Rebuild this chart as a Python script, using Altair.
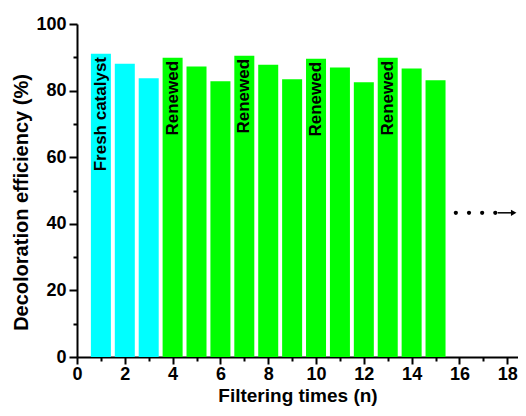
import altair as alt
import pandas as pd

# Data
runs = list(range(1, 16))
efficiency = [91.1, 88.1, 83.7, 89.9, 87.2, 82.8, 90.5, 87.8, 83.4, 89.6, 86.9, 82.5, 89.9, 86.6, 83.1]
phase = ["Fresh"] * 3 + ["Renewed"] * 12

label_runs = [1, 4, 7, 10, 13]
label_texts = ["Fresh catalyst", "Renewed", "Renewed", "Renewed", "Renewed"]

dots_x = [15.85, 16.4, 16.95, 17.5]
arrow_y = 43.3
arrow_line_x = [17.6, 18.2]
arrow_head_x = 18.27

x_major = [0, 2, 4, 6, 8, 10, 12, 14, 16, 18]
x_minor = [1, 3, 5, 7, 9, 11, 13, 15, 17]
y_major = [0, 20, 40, 60, 80, 100]
y_minor = [10, 30, 50, 70, 90]

FONT = "Liberation Sans"

bars_df = pd.DataFrame({"run": runs, "eff": efficiency, "phase": phase})
eff_by_run = dict(zip(runs, efficiency))
labels_df = pd.DataFrame({
    "run": label_runs,
    "text": label_texts,
    "ypos": [eff_by_run[r] - 1.0 for r in label_runs],
})
dots_df = pd.DataFrame({"x": dots_x, "y": [arrow_y] * len(dots_x)})
line_df = pd.DataFrame({"x": [arrow_line_x[0]], "x2": [arrow_line_x[1]], "y": [arrow_y]})
head_df = pd.DataFrame({"x": [arrow_head_x], "y": [arrow_y]})

xscale = alt.Scale(domain=[0, 18.45], nice=False, zero=False, padding=0)
yscale = alt.Scale(domain=[0, 100], nice=False, padding=0)

common_axis = dict(
    domainColor="black", domainWidth=2, tickColor="black", tickWidth=2,
    labelFont=FONT, labelFontWeight="bold", labelFontSize=18, labelColor="black",
    titleFont=FONT, titleFontWeight="bold", titleColor="black",
    grid=False,
)

x_major_axis = alt.Axis(values=x_major, tickSize=7, labelPadding=1, format="d",
                        title="Filtering times (n)", titlePadding=3, titleFontSize=19,
                        labelFlush=False, orient="bottom", **common_axis)
y_major_axis = alt.Axis(values=y_major, tickSize=8, labelPadding=3, format="d",
                        title="Decoloration efficiency (%)", titlePadding=4, titleFontSize=20,
                        titleY=178, orient="left", **common_axis)

x_minor_axis = alt.Axis(values=x_minor, tickSize=4, labels=False, domain=False, title=None,
                        orient="bottom", tickColor="black", tickWidth=2, grid=False)
y_minor_axis = alt.Axis(values=y_minor, tickSize=4, labels=False, domain=False, title=None,
                        orient="left", tickColor="black", tickWidth=2, grid=False)

bars = alt.Chart(bars_df).mark_bar(size=20).encode(
    x=alt.X("run:Q", scale=xscale, axis=x_major_axis),
    y=alt.Y("eff:Q", scale=yscale, axis=y_major_axis),
    color=alt.Color("phase:N", scale=alt.Scale(domain=["Fresh", "Renewed"],
                                               range=["#00FFFF", "#00FF00"]), legend=None),
)

labels = alt.Chart(labels_df).mark_text(
    angle=270, align="right", baseline="middle", font=FONT, fontWeight="bold",
    fontSize=17, color="black"
).encode(
    x=alt.X("run:Q", scale=xscale, axis=x_minor_axis),
    y=alt.Y("ypos:Q", scale=yscale, axis=y_minor_axis),
    text="text:N",
)

dots = alt.Chart(dots_df).mark_point(filled=True, size=18, color="black", opacity=1).encode(
    x=alt.X("x:Q", scale=xscale, axis=None),
    y=alt.Y("y:Q", scale=yscale, axis=None),
)

arrow_line = alt.Chart(line_df).mark_rule(color="black", strokeWidth=1.5).encode(
    x=alt.X("x:Q", scale=xscale, axis=None),
    x2="x2:Q",
    y=alt.Y("y:Q", scale=yscale, axis=None),
)

arrow_head = alt.Chart(head_df).mark_point(
    shape="triangle-right", filled=True, size=40, color="black", opacity=1
).encode(
    x=alt.X("x:Q", scale=xscale, axis=None),
    y=alt.Y("y:Q", scale=yscale, axis=None),
)

chart = alt.layer(bars, labels, dots, arrow_line, arrow_head).resolve_scale(
    x="shared", y="shared"
).resolve_axis(
    x="independent", y="independent"
).properties(
    width=441, height=333,
    autosize=alt.AutoSizeParams(type="none"),
    padding={"left": 69, "top": 16, "right": 0, "bottom": 51},
    background="white",
).configure_view(stroke=None)

chart.save("out.html", embed_options={"renderer": "svg", "actions": False})
